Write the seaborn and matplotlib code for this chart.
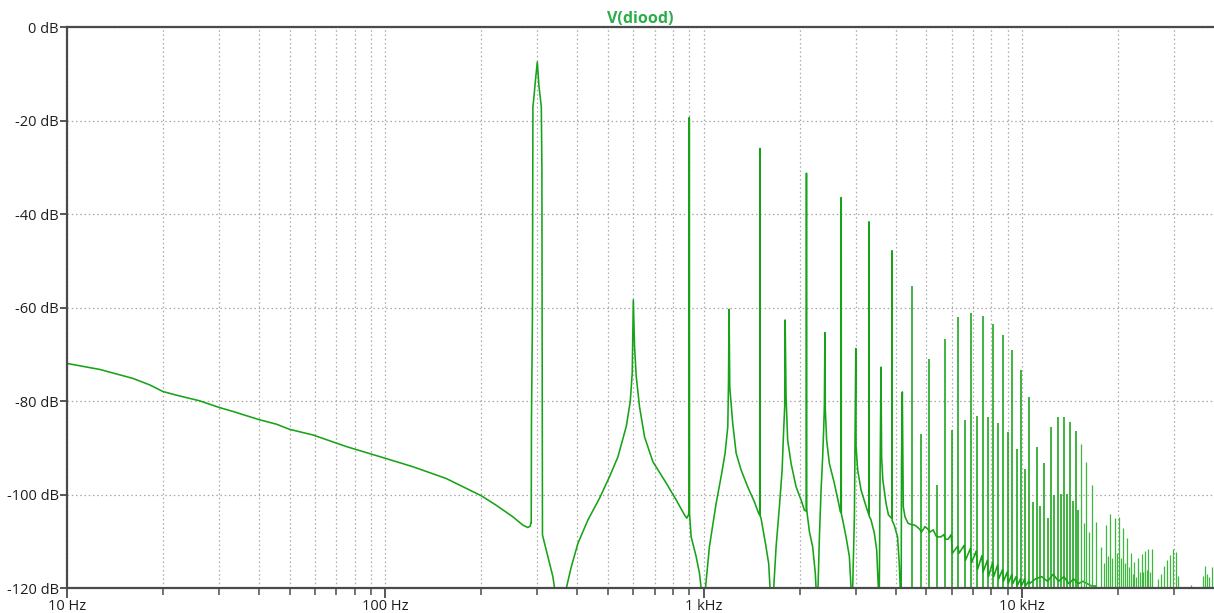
import numpy as np
import pandas as pd
import matplotlib
matplotlib.use("Agg")
import matplotlib.pyplot as plt
import seaborn as sns
from matplotlib.ticker import FixedLocator, NullFormatter

# ---- spectrum of V(diood) -------------------------------------------------
# low-frequency continuum below the fundamental
continuum_hz = [10, 12.7, 16.1, 18.2, 20, 22.1, 26.1, 30, 33.3, 40, 45.5, 50,
                59.2, 75.5, 100, 122, 155, 200, 222.4, 251.2, 270.3, 280, 284.8, 286.5]
continuum_db = [-71.9, -73.2, -75.1, -76.5, -77.9, -78.7, -79.9, -81.3, -82.2, -83.9,
                -84.9, -86.0, -87.2, -89.7, -92.2, -94.0, -96.5, -100.2, -102.2,
                -104.7, -106.5, -107.0, -106.7, -106.0]

# fundamental (300 Hz), 2nd harmonic skirt and 900 Hz line
fund_hz = [287, 287.5, 289.5, 290.5, 292.6, 296.2, 299.9, 303.4, 306.4, 308.7, 310.0,
           311.3, 316.1, 326.0, 335.6, 339.8, 355, 369.8, 383.4, 402.2, 432.3, 470.6,
           505.7, 537.1, 570.5, 587.2, 595.7, 600.5, 605.8, 613.3, 628.1, 651.2, 691.4,
           761.7, 818.8, 869.4, 883.9, 894.8, 899, 900, 901.5, 912.2, 945.7, 969,
           980.6, 995, 1011.6]
fund_db = [-106, -84, -62, -17, -15, -11, -7.4, -12.5, -15, -17, -30,
           -108.6, -110.4, -114.0, -117.5, -120, -132, -120, -115.4, -110.4, -105.4,
           -100.7, -96.1, -91.9, -85.4, -80.1, -74.0, -58.3, -68.3, -74.7, -81.2,
           -87.6, -92.9, -97.5, -101.1, -104.3, -105.0, -104.3, -104, -19.3, -104,
           -109.0, -113.2, -116.8, -120, -130, -120]

# harmonics 4 .. 14 with their skirts
mid_hz = [1041, 1093, 1133, 1166, 1189, 1195, 1200, 1206, 1232, 1263, 1309, 1373,
          1441, 1487, 1498, 1500, 1502, 1512, 1561, 1598, 1614, 1635, 1657, 1686,
          1727, 1761, 1781, 1794, 1800, 1812, 1833, 1879, 1948, 2020, 2069, 2098,
          2100, 2102, 2144, 2196, 2239, 2251, 2267, 2283, 2306, 2334, 2361, 2378,
          2390, 2400, 2407, 2430, 2478, 2568, 2650, 2682, 2698, 2700, 2702, 2729,
          2796, 2864, 2899, 2915, 2933, 2970, 2985, 3000, 3006, 3041, 3117, 3232,
          3286, 3298, 3300, 3302, 3350, 3431, 3489, 3532, 3545, 3557, 3572, 3585,
          3600, 3616, 3648, 3733, 3799, 3887, 3898, 3900, 3902, 3963, 4058, 4108,
          4137, 4150, 4166, 4176, 4200, 4229, 4281, 4380]
mid_db = [-111.1, -101.8, -96.1, -91.1, -85.4, -76.0, -60.3, -76.9, -84.7, -91.1,
          -94.7, -98.3, -101.5, -104.0, -104.3, -25.9, -104.5, -105.0, -110.4,
          -114.7, -120, -128, -120, -111.1, -102.5, -94.7, -86.1, -81.2, -62.6,
          -79.0, -88.3, -93.3, -98.3, -101.1, -103.3, -103.5, -31.2, -103.0, -107.8,
          -111.1, -116.8, -120, -126, -120, -109.0, -99.0, -91.9, -86.1, -81.2,
          -65.3, -81.9, -88.3, -93.3, -97.5, -101.8, -103.6, -103.8, -36.4, -104.0,
          -105.4, -109.0, -113.2, -120, -125, -120, -104.7, -86.1, -68.7, -89.7,
          -94.7, -99.0, -102.5, -104.0, -104.2, -41.6, -104.5, -105.4, -108.2,
          -111.8, -120, -124, -120, -100.4, -88.3, -72.7, -91.9, -96.8, -101.8,
          -104.3, -105.0, -105.0, -47.8, -105.5, -106.5, -109.0, -114.7, -120,
          -123, -120, -93.3, -78.0, -102.5, -104.7, -106.1]

# residual floor between the higher harmonic lines
floor_hz = [4450, 4600, 4700, 4780, 4820, 4950, 5080, 5120, 5250, 5380, 5420, 5550,
            5680, 5720, 5850, 5980, 6030, 6270, 6330, 6570, 6630, 6870, 6930, 7170,
            7230, 7470, 7530, 7770, 7830, 8070, 8130, 8370, 8430, 8670, 8730, 8970,
            9030, 9270, 9330, 9570, 9630, 9870, 9930, 10170, 10230, 10470, 10530,
            11000, 11500, 12000, 12500, 13000, 13500, 14000, 14500, 15000, 15500,
            16000, 16500, 17000, 17500, 40000]
floor_db = [-106.3, -106.5, -107.0, -107.5, -108.0, -106.8, -107.5, -108.0, -107.5,
            -109.0, -109.0, -109.0, -108.5, -109.5, -109.5, -108.5, -112.5, -111.0,
            -112.5, -110.8, -114.0, -111.5, -114.5, -112.0, -116.0, -113.0, -116.5,
            -114.0, -117.5, -114.5, -117.5, -115.0, -118.0, -116.0, -118.5, -116.5,
            -119.0, -117.0, -119.0, -117.5, -119.5, -118.0, -119.5, -118.0, -119.5,
            -118.5, -119.0, -118.0, -117.5, -118.5, -117.0, -118.5, -117.5, -119.0,
            -118.0, -119.0, -118.5, -119.0, -119.5, -119.5, -122, -126]

# discrete harmonic lines above 4.4 kHz (frequency, peak level)
line_hz = [4500, 4800, 5100, 5400, 5700, 6000, 6300, 6600, 6900, 7200, 7500, 7800,
           8100, 8400, 8700, 9000, 9300, 9600, 9900, 10200, 10500, 10800, 11100,
           11400, 11700, 12000, 12300, 12600, 12900, 13200, 13500, 13800, 14100,
           14400, 14700, 15000]
line_db = [-55.4, -86.9, -71.0, -97.8, -66.7, -86.1, -62.0, -83.9, -61.2, -83.1,
           -61.8, -83.4, -63.4, -84.7, -65.9, -86.6, -69.0, -90.3, -73.2, -94.5,
           -79.1, -101.5, -89.8, -102.4, -93.3, -105.0, -85.5, -100.0, -83.4, -99.8,
           -83.4, -99.8, -84.4, -101.3, -86.3, -103.3]

# weaker lines in the upper part of the band
hf_line_hz = [15300, 15600, 15900, 16200, 16500, 17100, 17700, 18000, 18300, 18600,
              18900, 19200, 19500, 19800, 20100, 20400, 20700, 21000, 21300, 21600,
              21900, 22200, 22500, 22800, 23100, 23400, 23700, 24000, 24300, 24600,
              24900, 25200, 25500, 26700, 27300, 27900, 28500, 29100, 29700, 30300,
              30900, 33900, 36900, 37500, 38100, 38700, 39300]
hf_line_db = [-89.1, -106.0, -93.0, -108.0, -98.0, -105.8, -111.1, -114.5, -106.5,
              -113.0, -104.1, -113.5, -104.9, -112.5, -104.7, -113.5, -107.2, -114.5,
              -109.3, -115.5, -112.4, -117.0, -114.3, -117.5, -113.6, -116.5, -112.7,
              -116.5, -112.1, -116.0, -111.7, -116.5, -111.7, -118.0, -117.0, -115.3,
              -113.9, -112.9, -111.7, -112.2, -117.4, -119.4, -117.3, -115.3, -117.0,
              -117.5, -115.5]

x_ticks = [10, 100, 1000, 10000]
x_tick_labels = ["10 Hz", "100 Hz", "1 kHz", "10 kHz"]
y_ticks = [0, -20, -40, -60, -80, -100, -120]
y_tick_labels = ["0 dB", "-20 dB", "-40 dB", "-60 dB", "-80 dB", "-100 dB", "-120 dB"]

TRACE = "#17a317"
TRACE_LIGHT = "#3cb83c"
AXIS = "#4a4a4a"
GRID = "#a8a8a8"

sns.set_theme(style="white")
plt.rcParams["font.family"] = ["Open Sans", "DejaVu Sans"]

trace = pd.DataFrame({
    "hz": continuum_hz + fund_hz + mid_hz + floor_hz,
    "db": continuum_db + fund_db + mid_db + floor_db,
})

W, H = 1214, 613
fig = plt.figure(figsize=(W / 100, H / 100), dpi=100)
ax = fig.add_axes([67 / W, (H - 588.3) / H, 1 - 67 / W, (588.3 - 27.3) / H])
ax.set_xscale("log")
ax.set_xlim(10, 40000)
ax.set_ylim(-120, 0)

# grid: every decade subdivision, every 20 dB
minor = [m * d for d in (10, 100, 1000, 10000) for m in range(2, 10) if m * d < 40000]
ax.xaxis.set_major_locator(FixedLocator(x_ticks))
ax.xaxis.set_minor_locator(FixedLocator(minor))
ax.xaxis.set_minor_formatter(NullFormatter())
ax.set_xticklabels(x_tick_labels)
ax.set_yticks(y_ticks)
ax.set_yticklabels(y_tick_labels)
ax.grid(True, which="both", axis="x", color=GRID, linestyle=(0, (1.2, 2.2)), lw=0.9)
ax.grid(True, which="major", axis="y", color=GRID, linestyle=(0, (1.2, 2.2)), lw=0.9)
ax.set_axisbelow(True)

sns.lineplot(data=trace, x="hz", y="db", sort=False, estimator=None,
             color=TRACE, lw=1.15, ax=ax)
ax.vlines(line_hz, -130, line_db, color=TRACE, lw=1.15)
ax.vlines(hf_line_hz, -130, hf_line_db, color=TRACE_LIGHT, lw=0.9)

for side in ("left", "bottom", "top"):
    ax.spines[side].set_color(AXIS)
    ax.spines[side].set_linewidth(1.6)
ax.spines["right"].set_visible(False)

ax.tick_params(axis="x", which="major", length=7, width=1.3, color=AXIS,
               labelsize=10.5, labelcolor="#1e1e1e", pad=1, bottom=True)
ax.tick_params(axis="x", which="minor", length=5, width=1.1, color=AXIS, bottom=True)
ax.tick_params(axis="y", which="major", length=5, width=1.3, color=AXIS,
               labelsize=10.5, labelcolor="#1e1e1e", pad=1, left=True)
ax.set_xlabel("")
ax.set_ylabel("")

ax.set_title("V(diood)", color="#2aae4a", fontweight="bold", fontsize=11.5, pad=3)

fig.savefig("out.png", dpi=100)
